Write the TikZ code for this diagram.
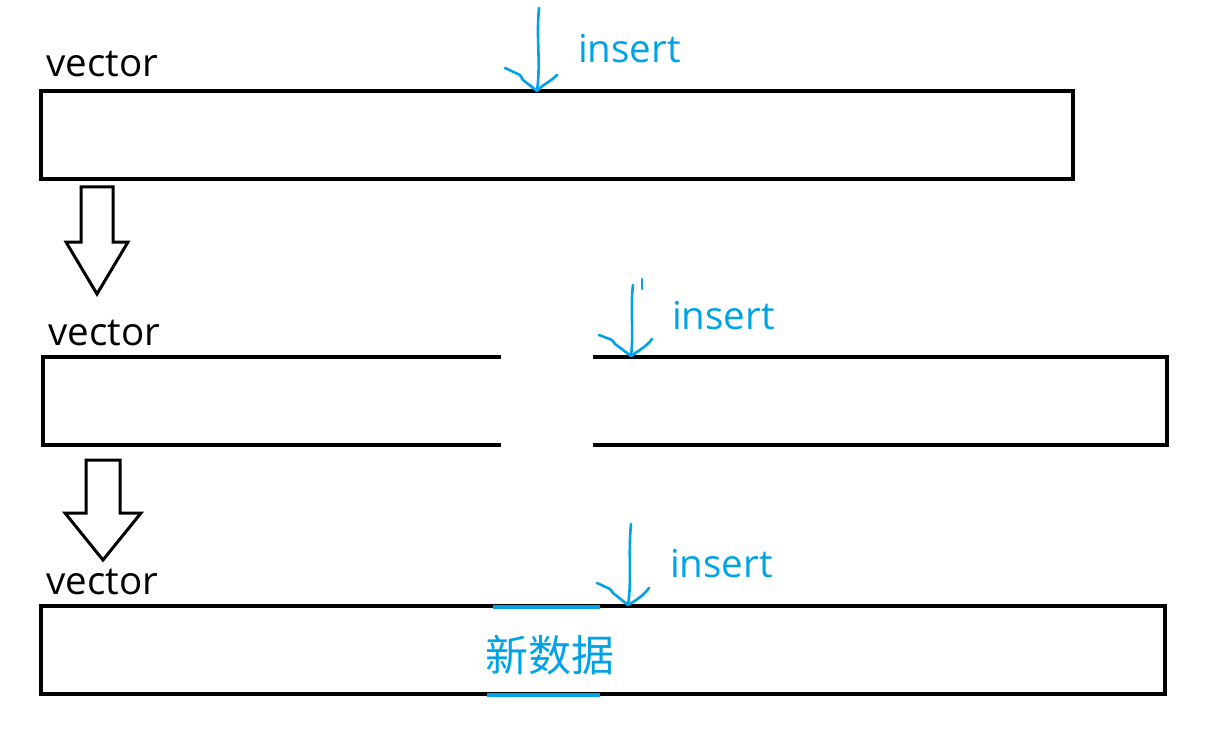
\documentclass[tikz,border=0pt]{standalone}
\usepackage{fontspec}
\setmainfont{Open Sans}
\newfontfamily\cjk{Noto Sans CJK SC}
\usetikzlibrary{positioning, calc}
\definecolor{inkblue}{HTML}{00A2E8}

\begin{document}
\begin{tikzpicture}[x=1pt, y=-1pt,
        vecbox/.style={draw, rectangle, line width=4pt, minimum height=88pt, inner sep=0pt},
        edge/.style={line width=4pt},
        label/.style={font=\fontsize{38.5}{42}\selectfont, inner sep=0pt, anchor=base west},
        insertlabel/.style={label, text=inkblue},
        pen/.style={inkblue, line width=2.6pt, line cap=round, line join=round},
        hollow/.style={draw, line width=3pt, fill=white}
    ]
        \useasboundingbox (0,0) rectangle (1223,746);

        % First vector
        \node[label] (vl1) at (46,77) {vector};
        \node[vecbox, minimum width=1032pt] (v1) at (557,135) {};
        \node[insertlabel] (il1) at (578,63) {insert};
        \coordinate (t1) at (537,91);
        \draw[pen] (539,8) .. controls (536,40) and (541,60) .. (t1);
        \draw[pen] (505,68) -- (520,75) -- (523,80) -- (t1);
        \draw[pen] (557,75) .. controls (550,82) and (542,85) .. (t1);

        % Hollow arrow 1
        \coordinate (a1) at ($(v1.south west)+(58,6)$);
        \draw[hollow] (a1) ++(-16,0) -- ++(0,55) -- ++(-15,0) -- ($(a1)+(0,107)$)
            -- ++(31,-52) -- ++(-15,0) -- ++(0,-55) -- cycle;

        % Second vector, opened at the insert point
        \node[label] (vl2) at (48,345) {vector};
        \coordinate (v2nw) at (43,357);
        \coordinate (v2se) at (1167,445);
        \coordinate (gapl) at (501,357);
        \coordinate (gapr) at (593,357);
        \draw[edge] (gapl) -- (v2nw) -- (v2nw |- v2se) -- (gapl |- v2se);
        \draw[edge] (gapr) -- (v2se |- gapr) -- (v2se) -- (gapr |- v2se);
        \node[insertlabel] (il2) at (672,329) {insert};
        \coordinate (t2) at (631,356);
        \draw[pen] (633,285) .. controls (630,310) and (634,330) .. (t2);
        \draw[pen] (599,335) -- (612,340) -- (615,344) -- (t2);
        \draw[pen] (652,339) .. controls (646,347) and (638,351) .. (t2);
        \draw[pen] (642,279) -- (642,289);

        % Hollow arrow 2
        \coordinate (a2) at ($(v2nw |- v2se)+(60,15)$);
        \draw[hollow] (a2) ++(-17,0) -- ++(0,53) -- ++(-21,0) -- ($(a2)+(0,100)$)
            -- ++(38,-47) -- ++(-21,0) -- ++(0,-53) -- cycle;

        % Third vector with the new data
        \node[label] (vl3) at (46,594) {vector};
        \node[vecbox, minimum width=1124pt] (v3) at (603,650) {};
        \node[font=\cjk\fontsize{43}{46}\selectfont, text=inkblue, inner sep=0pt] (nd) at (550,655) {新数据};
        \draw[inkblue, line width=4pt] (493,607) -- (600,607);
        \draw[inkblue, line width=4pt] (487,695) -- (600,695);
        \node[insertlabel] (il3) at (670,577) {insert};
        \coordinate (t3) at (628,605);
        \draw[pen] (631,524) .. controls (628,555) and (632,580) .. (t3);
        \draw[pen] (597,583) -- (610,589) -- (613,593) -- (t3);
        \draw[pen] (649,588) .. controls (643,596) and (635,601) .. (t3);

    \end{tikzpicture}
\end{document}
